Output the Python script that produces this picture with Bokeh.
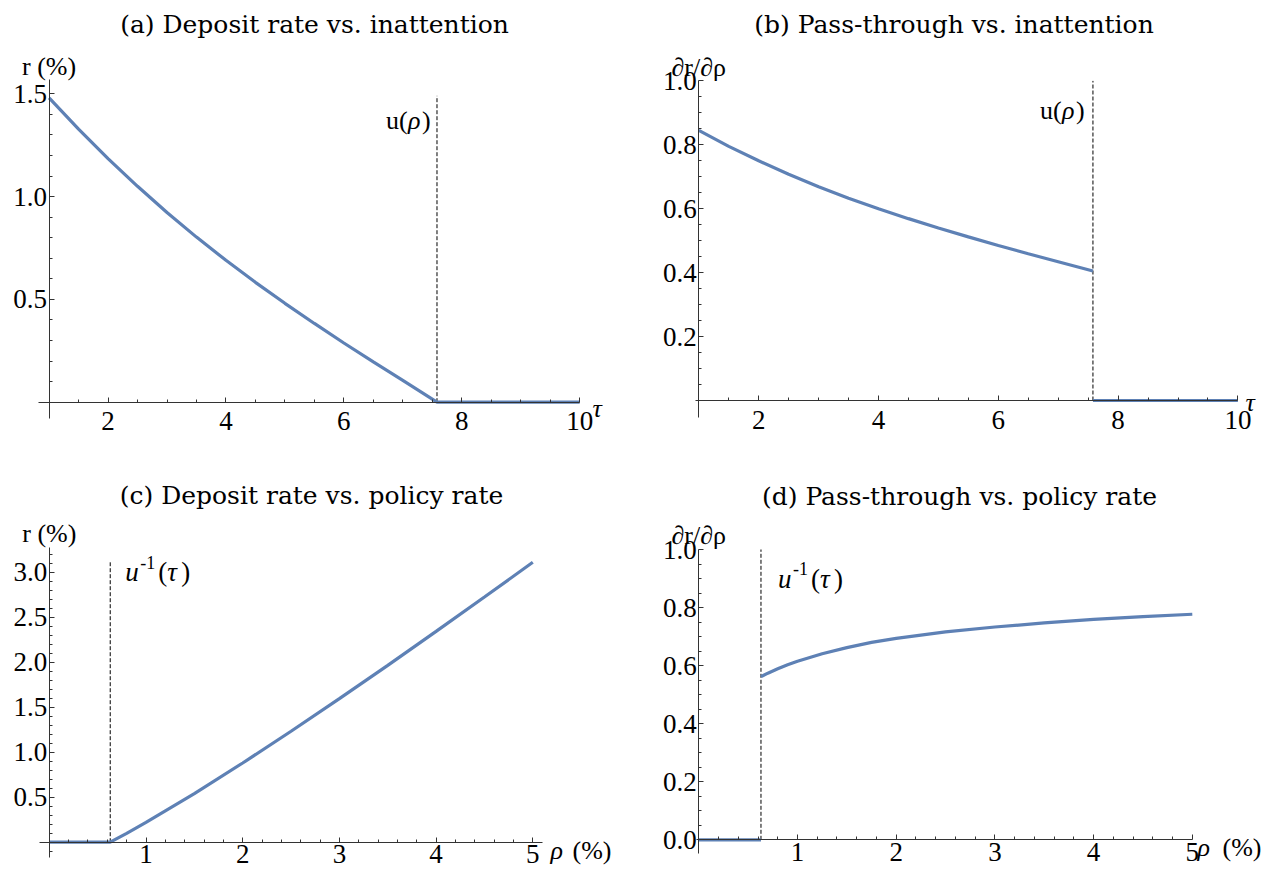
import numpy as np
from bokeh.plotting import figure
from bokeh.models import Range1d, LinearAxis, FixedTicker, Label, NumeralTickFormatter
from bokeh.layouts import column, row
from bokeh.embed import file_html
from bokeh.resources import INLINE

# ---------------- data ----------------
U_RHO = 7.58          # u(rho): threshold inattention
U_INV_TAU = 0.63      # u^{-1}(tau): threshold policy rate

# (a) deposit rate vs inattention
tau_a = [1.0, 1.5, 2.0, 2.5, 3.0, 3.5, 4.0, 4.5, 5.0, 5.5, 6.0, 6.5, 7.0, 7.58, 10.0]
r_a = [1.48, 1.328, 1.185, 1.05, 0.923, 0.803, 0.69, 0.583, 0.481, 0.383, 0.288, 0.196, 0.106, 0.0, 0.0]

# (b) pass-through vs inattention
tau_b = [1.0, 1.5, 2.0, 2.5, 3.0, 3.5, 4.0, 4.5, 5.0, 5.5, 6.0, 6.5, 7.0, 7.58]
pt_b = [0.845, 0.795, 0.750, 0.708, 0.669, 0.633, 0.600, 0.569, 0.540, 0.512, 0.485, 0.459, 0.434, 0.405]
tau_b_zero = [7.58, 10.0]
pt_b_zero = [0.0, 0.0]

# (c) deposit rate vs policy rate
rho_c = [0.0, 0.63, 0.8, 1.0, 1.5, 2.0, 2.5, 3.0, 3.5, 4.0, 4.5, 5.0]
r_c = [0.0, 0.0, 0.098, 0.22, 0.54, 0.88, 1.233, 1.595, 1.965, 2.342, 2.724, 3.11]

# (d) pass-through vs policy rate
rho_d = [0.63, 0.7, 0.8, 0.9, 1.0, 1.25, 1.5, 1.75, 2.0, 2.5, 3.0, 3.5, 4.0, 4.5, 5.0]
pt_d = [0.562, 0.574, 0.589, 0.603, 0.615, 0.641, 0.662, 0.680, 0.694, 0.716, 0.733, 0.747, 0.759, 0.769, 0.777]
rho_d_zero = [0.0, 0.63]
pt_d_zero = [0.0, 0.0]

# dashed marker tops
vline_top_a = 1.49
vline_top_b = 1.0
vline_top_c = 3.11
vline_top_d = 1.0

# ticks
xticks_tau = [2, 4, 6, 8, 10]
yticks_a = [0.5, 1.0, 1.5]
yticks_b = [0.2, 0.4, 0.6, 0.8, 1.0]
xticks_rho = [1, 2, 3, 4, 5]
yticks_c = [0.5, 1.0, 1.5, 2.0, 2.5, 3.0]
yticks_d = [0.0, 0.2, 0.4, 0.6, 0.8, 1.0]

titles = ["(a) Deposit rate vs. inattention", "(b) Pass-through vs. inattention",
          "(c) Deposit rate vs. policy rate", "(d) Pass-through vs. policy rate"]

BLUE = "#5E81B5"
AX = "#333333"
DASH = "#000000"
TIMES = "Liberation Serif, Times New Roman, Tinos, serif"
TFONT = "DejaVu Serif"


class Map:
    def __init__(self, left, top, w, h, x0, px0, sx, py0, sy):
        self.left, self.top, self.w, self.h = left, top, w, h
        self.x0, self.px0, self.sx, self.py0, self.sy = x0, px0, sx, py0, sy

    def x(self, px):
        return self.x0 + (px - self.px0) / self.sx

    def y(self, py):
        return (self.py0 - py) / self.sy

    def fig(self):
        return figure(width=self.w, height=self.h,
                      x_range=Range1d(self.x(self.left), self.x(self.left + self.w)),
                      y_range=Range1d(self.y(self.top + self.h), self.y(self.top)),
                      output_backend="svg", toolbar_location=None,
                      x_axis_type=None, y_axis_type=None,
                      min_border=0, min_border_left=0, min_border_right=0,
                      min_border_top=0, min_border_bottom=0,
                      outline_line_color=None, background_fill_color="white",
                      border_fill_color="white")


def add_axes(p, xloc, yloc, xb, yb, xt, xmt, yt, ymt, xfmt, yfmt, xstand, ystand):
    common = dict(axis_line_color=AX, axis_line_width=1,
                  major_tick_line_color=AX, minor_tick_line_color=AX,
                  major_tick_in=5, major_tick_out=0, minor_tick_in=3, minor_tick_out=0,
                  major_label_text_font=TIMES, major_label_text_font_size="27px",
                  major_label_text_color="black")
    xa = LinearAxis(fixed_location=xloc, bounds=xb,
                    ticker=FixedTicker(ticks=xt, minor_ticks=xmt),
                    formatter=NumeralTickFormatter(format=xfmt),
                    major_label_standoff=xstand, **common)
    ya = LinearAxis(fixed_location=yloc, bounds=yb,
                    ticker=FixedTicker(ticks=yt, minor_ticks=ymt),
                    formatter=NumeralTickFormatter(format=yfmt),
                    major_label_standoff=ystand, **common)
    p.add_layout(xa, "below")
    p.add_layout(ya, "left")


def txt(p, x, y, text, size=26, font=TIMES, style="normal", align="left", dx=0, dy=0):
    p.add_layout(Label(x=x, y=y, text=text, text_font=font, text_font_size=f"{size}px",
                       text_font_style=style, text_align=align, text_baseline="alphabetic",
                       x_offset=dx, y_offset=dy, text_color="black"))


def u_rho_label(p, x, y, dx):
    txt(p, x, y, "u(", dx=dx)
    txt(p, x, y, "ρ", style="italic", dx=dx + 22)
    txt(p, x, y, ")", dx=dx + 36)


def u_inv_label(p, x, y, dx):
    txt(p, x, y, "u", style="italic", size=27, dx=dx)
    txt(p, x, y, "-1", size=18, dx=dx + 15, dy=10)
    txt(p, x, y, "(", size=27, dx=dx + 33)
    txt(p, x, y, "τ", style="italic", size=27, dx=dx + 42)
    txt(p, x, y, ")", size=27, dx=dx + 56)


def rho_pct_label(p, x, y, gap):
    txt(p, x, y, "ρ", style="italic")
    txt(p, x, y, "(%)", dx=gap)


def minors(a, b, step, majors):
    vals = np.round(np.arange(a, b + step / 2, step), 4)
    return [float(v) for v in vals if not np.any(np.isclose(v, majors))]


# ---------------- panel (a) ----------------
ma = Map(0, 0, 640, 458, 1.0, 48.6, 58.95, 401.7, 205.6)
pa = ma.fig()
add_axes(pa, 0, 1.0, (ma.x(38), 10.0), (ma.y(418), ma.y(79)),
         xticks_tau, minors(1.5, 10, 0.5, xticks_tau),
         yticks_a, minors(0.1, 1.5, 0.1, yticks_a), "0", "0.0", 10, 2)
pa.line([U_RHO, U_RHO], [0, vline_top_a], line_color=DASH, line_width=1, line_dash="4 2")
pa.line(tau_a, r_a, line_color=BLUE, line_width=3.2)
txt(pa, ma.x(314), ma.y(23.5), titles[0], size=25, font=TFONT, align="center")
txt(pa, 1.0, ma.y(66), "r (%)", align="center")
txt(pa, ma.x(592), ma.y(408), "τ", style="italic")
u_rho_label(pa, U_RHO, ma.y(120), -51)

# ---------------- panel (b) ----------------
mb = Map(640, 0, 630, 458, 1.0, 698.3, 59.9, 400.0, 319.6)
pb = mb.fig()
add_axes(pb, 0, 1.0, (mb.x(695), 10.0), (mb.y(416.7), 1.0),
         xticks_tau, minors(1.5, 10, 0.5, xticks_tau),
         yticks_b, minors(0.05, 1.0, 0.05, yticks_b), "0", "0.0", 10, 2)
pb.line([U_RHO, U_RHO], [0, vline_top_b], line_color=DASH, line_width=1, line_dash="4 2")
pb.line(tau_b, pt_b, line_color=BLUE, line_width=3.2)
pb.line(tau_b_zero, pt_b_zero, line_color=BLUE, line_width=3.2)
txt(pb, mb.x(953.5), mb.y(23.5), titles[1], size=25, font=TFONT, align="center")
txt(pb, 1.0, mb.y(67), "∂r/∂ρ", align="center")
txt(pb, mb.x(1245), mb.y(402), "τ", style="italic")
u_rho_label(pb, U_RHO, mb.y(110), -53)

# ---------------- panel (c) ----------------
mc = Map(0, 458, 640, 413, 0.0, 48.8, 96.7, 841.7, 90.0)
pc = mc.fig()
add_axes(pc, 0, 0.0, (mc.x(39.3), mc.x(541.7)), (mc.y(856.7), mc.y(547.3)),
         xticks_rho, minors(0.2, 5.0, 0.2, xticks_rho),
         yticks_c, minors(-0.1, 3.2, 0.1, yticks_c + [0.0]), "0", "0.0", 3, 2)
pc.line([U_INV_TAU, U_INV_TAU], [0, vline_top_c], line_color=DASH, line_width=1, line_dash="4 2")
pc.line(rho_c, r_c, line_color=BLUE, line_width=3.2)
txt(pc, mc.x(311), mc.y(495), titles[2], size=25, font=TFONT, align="center")
txt(pc, 0.0, mc.y(533), "r (%)", align="center")
rho_pct_label(pc, mc.x(550), mc.y(850), 22)
u_inv_label(pc, U_INV_TAU, mc.y(571.7), 15)

# ---------------- panel (d) ----------------
md = Map(640, 458, 630, 413, 0.0, 698.3, 98.7, 839.3, 290.3)
pdd = md.fig()
add_axes(pdd, 0, 0.0, (md.x(696), 5.0), (md.y(853.3), 1.0),
         xticks_rho, minors(0.2, 5.0, 0.2, xticks_rho),
         yticks_d, minors(0.05, 1.0, 0.05, yticks_d), "0", "0.0", 3, 2)
pdd.line([U_INV_TAU, U_INV_TAU], [0, vline_top_d], line_color=DASH, line_width=1, line_dash="4 2")
pdd.line(rho_d, pt_d, line_color=BLUE, line_width=3.2)
pdd.line(rho_d_zero, pt_d_zero, line_color=BLUE, line_width=3.2)
txt(pdd, md.x(959), md.y(496), titles[3], size=25, font=TFONT, align="center")
txt(pdd, 0.0, md.y(535), "∂r/∂ρ", align="center")
rho_pct_label(pdd, md.x(1197), md.y(847), 25)
u_inv_label(pdd, U_INV_TAU, md.y(578.3), 17)

layout = column(row(pa, pb), row(pc, pdd))
open("out.html", "w").write(file_html(layout, INLINE))
